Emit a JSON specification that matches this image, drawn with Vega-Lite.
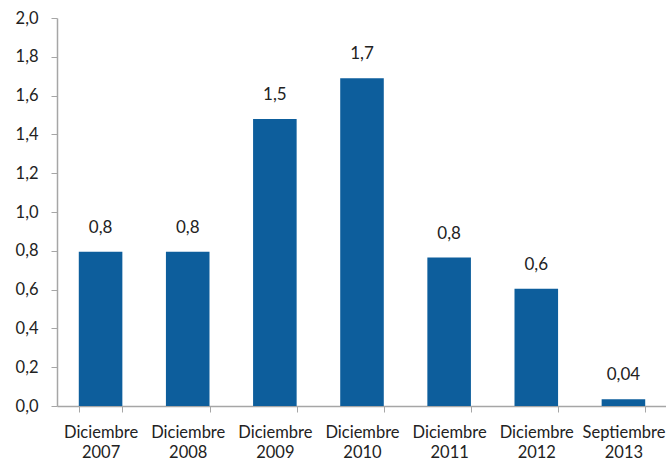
{
  "$schema": "https://vega.github.io/schema/vega-lite/v6.json",
  "width": 610,
  "height": 388,
  "autosize": {"type": "none"},
  "padding": {"left": 57, "top": 18, "right": 0, "bottom": 56},
  "background": "white",
  "config": {
    "view": {"stroke": null},
    "font": "Lato",
    "axis": {"labelFont": "Lato", "labelFontSize": 16.5, "labelColor": "#222222", "domainColor": "#A6A6A6", "tickColor": "#A6A6A6", "grid": false, "title": null}
  },
  "data": {
    "values": [
      {"periodo": "Diciembre 2007", "valor": 0.795, "etiqueta": "0,8"},
      {"periodo": "Diciembre 2008", "valor": 0.795, "etiqueta": "0,8"},
      {"periodo": "Diciembre 2009", "valor": 1.48, "etiqueta": "1,5"},
      {"periodo": "Diciembre 2010", "valor": 1.69, "etiqueta": "1,7"},
      {"periodo": "Diciembre 2011", "valor": 0.765, "etiqueta": "0,8"},
      {"periodo": "Diciembre 2012", "valor": 0.605, "etiqueta": "0,6"},
      {"periodo": "Septiembre 2013", "valor": 0.035, "etiqueta": "0,04"}
    ]
  },
  "encoding": {
    "x": {
      "field": "periodo",
      "type": "nominal",
      "sort": null,
      "scale": {"paddingInner": 0.5, "paddingOuter": 0.25},
      "axis": {"labelAngle": 0, "tickBand": "extent", "tickSize": 6, "labelPadding": 12, "labelExpr": "split(datum.label, ' ')", "labelLineHeight": 20, "domainWidth": 1.5}
    },
    "y": {
      "field": "valor",
      "type": "quantitative",
      "scale": {"domain": [0, 2]},
      "axis": {"values": [0, 0.2, 0.4, 0.6, 0.8, 1.0, 1.2, 1.4, 1.6, 1.8, 2.0], "labelExpr": "replace(format(datum.value, '.1f'), '.', ',')", "tickSize": 6, "labelPadding": 13, "domainWidth": 1.5}
    }
  },
  "layer": [
    {"mark": {"type": "bar", "color": "#0D5E9C"}},
    {"mark": {"type": "text", "dy": -15, "baseline": "bottom", "fontSize": 17, "color": "#222222", "font": "Lato"}, "encoding": {"text": {"field": "etiqueta"}}}
  ]
}
